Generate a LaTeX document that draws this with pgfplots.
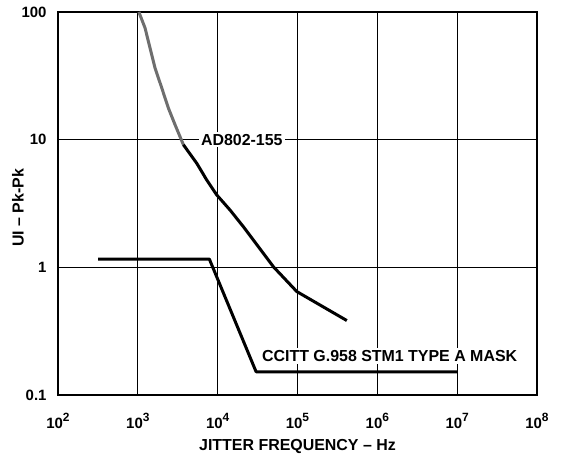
\documentclass[border=0pt]{standalone}
\usepackage{pgfplots}
\pgfplotsset{compat=1.18}
\usepackage{fontspec}
\setmainfont{Liberation Sans}
\definecolor{curvegray}{RGB}{110,110,110}
\newcommand\ee[1]{10\raisebox{6.5bp}{\fontsize{12}{12}\selectfont #1}}
\begin{document}
\begin{tikzpicture}
\begin{axis}[
  scale only axis, width=479bp, height=383bp,
  xmode=log, ymode=log,
  xmin=1e2, xmax=1e8, ymin=0.1, ymax=100,
  xtick={1e2,1e3,1e4,1e5,1e6,1e7,1e8},
  xticklabels={\ee{2},\ee{3},\ee{4},\ee{5},\ee{6},\ee{7},\ee{8}},
  ytick={0.1,1,10,100},
  yticklabels={0.1,1,10,100},
  minor xtick={}, minor ytick={},
  major tick length=0pt, minor tick length=0pt,
  grid=major, grid style={black, line width=0.8bp},
  axis line style={line width=2.2bp},
  ticklabel style={font=\fontsize{15}{15}\selectfont\bfseries},
  xticklabel style={yshift=-15bp},
  yticklabel style={xshift=-8bp},
  clip=false,
]
\addplot[curvegray, line width=3bp, line join=round] coordinates {
  (1030,100) (1231,75.0) (1421,52.3) (1643,36.4) (1994,25.4) (2412,17.7)
  (2924,13.1) (3715,9.14)
};
\addplot[black, line width=3bp, line join=round] coordinates {
  (3715,9.14) (5470,6.53) (7300,4.83) (9740,3.69) (14300,2.81) (21000,2.08)
  (49900,1.01) (98000,0.646) (415000,0.383)
};
\addplot[black, line width=3bp, line join=round] coordinates {
  (317,1.16) (7870,1.16) (30300,0.152) (1e7,0.152)
};
\node[fill=white, inner sep=2bp, font=\fontsize{16}{18}\selectfont\bfseries]
  at (axis cs:20050,10) {AD802-155};
\node[fill=white, inner sep=2bp, font=\fontsize{16}{18}\selectfont\bfseries]
  at (axis cs:1.426e6,0.202) {CCITT G.958 STM1 TYPE A MASK};
\node[rotate=90, font=\fontsize{16}{18}\selectfont\bfseries]
  at ([shift={(-40bp,-4.5bp)}]rel axis cs:0,0.5) {UI – Pk-Pk};
\node[anchor=base, font=\fontsize{16}{18}\selectfont\bfseries]
  at ([yshift=-55bp]rel axis cs:0.5,0) {JITTER FREQUENCY – Hz};
\coordinate (ll) at (rel axis cs:0,0);
\coordinate (ur) at (rel axis cs:1,1);
\end{axis}
\pgfresetboundingbox
\path ([shift={(-58bp,-60bp)}]ll) rectangle ([shift={(26bp,12bp)}]ur);
\end{tikzpicture}
\end{document}
